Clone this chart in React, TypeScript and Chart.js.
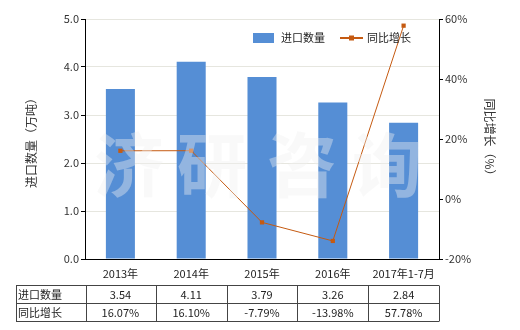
import React, { useEffect, useRef } from "react";
import { Chart, registerables } from "chart.js";

Chart.register(...registerables);

const categories = ["2013年", "2014年", "2015年", "2016年", "2017年1-7月"];
const importQty = [3.54, 4.11, 3.79, 3.26, 2.84];
const yoyGrowth = [16.07, 16.1, -7.79, -13.98, 57.78];
const qtyLabels = ["3.54", "4.11", "3.79", "3.26", "2.84"];
const growthLabels = ["16.07%", "16.10%", "-7.79%", "-13.98%", "57.78%"];
const seriesNames = ["进口数量", "同比增长"];
const leftTitle = "进口数量（万吨）";
const rightTitle = "同比增长（%）";
const watermark = ["济", "研", "咨", "询"];

const FONT = '"Noto Sans CJK SC", "Noto Sans", sans-serif';
const BAR = "#558ed5";
const LINE = "#c55a11";

const overlay = {
  id: "overlay",
  afterDraw(chart: any) {
    const ctx = chart.ctx as CanvasRenderingContext2D;
    const xs = chart.scales.x;
    ctx.save();
    // watermark
    ctx.fillStyle = "rgba(240,240,240,0.4)";
    ctx.font = `bold 70px ${FONT}`;
    ctx.textAlign = "center";
    ctx.textBaseline = "middle";
    const wx = [129, 212, 302, 387];
    watermark.forEach((c, i) => ctx.fillText(c, wx[i], 165));

    // axis titles
    ctx.fillStyle = "#333";
    ctx.font = `12px ${FONT}`;
    ctx.save();
    ctx.translate(31, 140);
    ctx.rotate(-Math.PI / 2);
    ctx.fillText(leftTitle, 0, 0);
    ctx.restore();
    ctx.save();
    ctx.translate(490, 140);
    ctx.rotate(Math.PI / 2);
    ctx.fillText(rightTitle, 0, 0);
    ctx.restore();

    // legend
    ctx.font = `11px ${FONT}`;
    ctx.textAlign = "left";
    ctx.fillStyle = BAR;
    ctx.fillRect(253, 33, 21, 10);
    ctx.fillStyle = "#222";
    ctx.fillText(seriesNames[0], 281, 38);
    ctx.strokeStyle = LINE;
    ctx.lineWidth = 2;
    ctx.beginPath();
    ctx.moveTo(340, 38);
    ctx.lineTo(363, 38);
    ctx.stroke();
    ctx.fillStyle = LINE;
    ctx.fillRect(349, 35.5, 5, 5);
    ctx.fillStyle = "#222";
    ctx.fillText(seriesNames[1], 367, 38);

    // table
    const cols = [16, 85.5];
    for (let i = 0; i < categories.length; i++) {
      cols.push(xs.getPixelForValue(i) + (xs.getPixelForValue(1) - xs.getPixelForValue(0)) / 2);
    }
    const rows = [285.5, 303.5, 321.5];
    ctx.strokeStyle = "#444";
    ctx.lineWidth = 1;
    ctx.beginPath();
    rows.forEach((y) => {
      ctx.moveTo(cols[0], y);
      ctx.lineTo(cols[cols.length - 1], y);
    });
    cols.forEach((x) => {
      const xx = Math.round(x) + 0.5;
      ctx.moveTo(xx, rows[0]);
      ctx.lineTo(xx, rows[2]);
    });
    ctx.stroke();
    ctx.fillStyle = "#222";
    ctx.font = `11px ${FONT}`;
    ctx.textAlign = "left";
    ctx.fillText(seriesNames[0], 18, 294.5);
    ctx.fillText(seriesNames[1], 18, 312.5);
    ctx.textAlign = "center";
    for (let i = 0; i < categories.length; i++) {
      const cx = xs.getPixelForValue(i);
      ctx.fillText(qtyLabels[i], cx, 295);
      ctx.fillText(growthLabels[i], cx, 313);
    }
    ctx.restore();
  },
};

export default function App() {
  const ref = useRef<HTMLCanvasElement>(null);
  useEffect(() => {
    const chart = new Chart(ref.current!, {
      data: {
        labels: categories,
        datasets: [
          {
            type: "line",
            label: seriesNames[1],
            data: yoyGrowth,
            yAxisID: "y1",
            borderColor: LINE,
            backgroundColor: LINE,
            borderWidth: 1,
            pointStyle: "rect",
            pointRadius: 3,
            pointBorderWidth: 0,
            tension: 0,
            order: 0,
          },
          {
            type: "bar",
            label: seriesNames[0],
            data: importQty,
            yAxisID: "y",
            backgroundColor: BAR,
            barPercentage: 0.41,
            categoryPercentage: 1,
            order: 1,
          },
        ],
      } as any,
      options: {
        responsive: false,
        animation: false,
        layout: { padding: { top: 19, left: 0, right: 0, bottom: 0 } },
        plugins: { legend: { display: false }, tooltip: { enabled: false } },
        scales: {
          x: {
            offset: true,
            grid: { display: false, drawTicks: false },
            border: { color: "#000", width: 1 },
            ticks: { color: "#222", font: { size: 11, family: FONT }, padding: 8, maxRotation: 0 },
            afterFit(s: any) {
              s.height = 71;
            },
          },
          y: {
            position: "left",
            min: 0,
            max: 5,
            grid: { color: "#e6e6df", tickColor: "#000", tickLength: 4 },
            border: { color: "#000", width: 1 },
            ticks: {
              stepSize: 1,
              color: "#333",
              font: { size: 11, family: FONT },
              padding: 2,
              callback: (v: any) => Number(v).toFixed(1),
            },
            afterFit(s: any) {
              s.width = 85;
            },
          },
          y1: {
            position: "right",
            min: -20,
            max: 60,
            grid: { drawOnChartArea: false, tickColor: "#000", tickLength: 4 },
            border: { color: "#000", width: 1 },
            ticks: {
              stepSize: 20,
              color: "#333",
              font: { size: 11, family: FONT },
              padding: 2,
              callback: (v: any) => `${v}%`,
            },
            afterFit(s: any) {
              s.width = 81;
            },
          },
        },
      } as any,
      plugins: [overlay],
    });
    return () => chart.destroy();
  }, []);
  return (
    <div style={{ position: "fixed", left: 0, top: 0, width: 520, height: 330, background: "#fff" }}>
      <canvas ref={ref} width={520} height={330} />
    </div>
  );
}
